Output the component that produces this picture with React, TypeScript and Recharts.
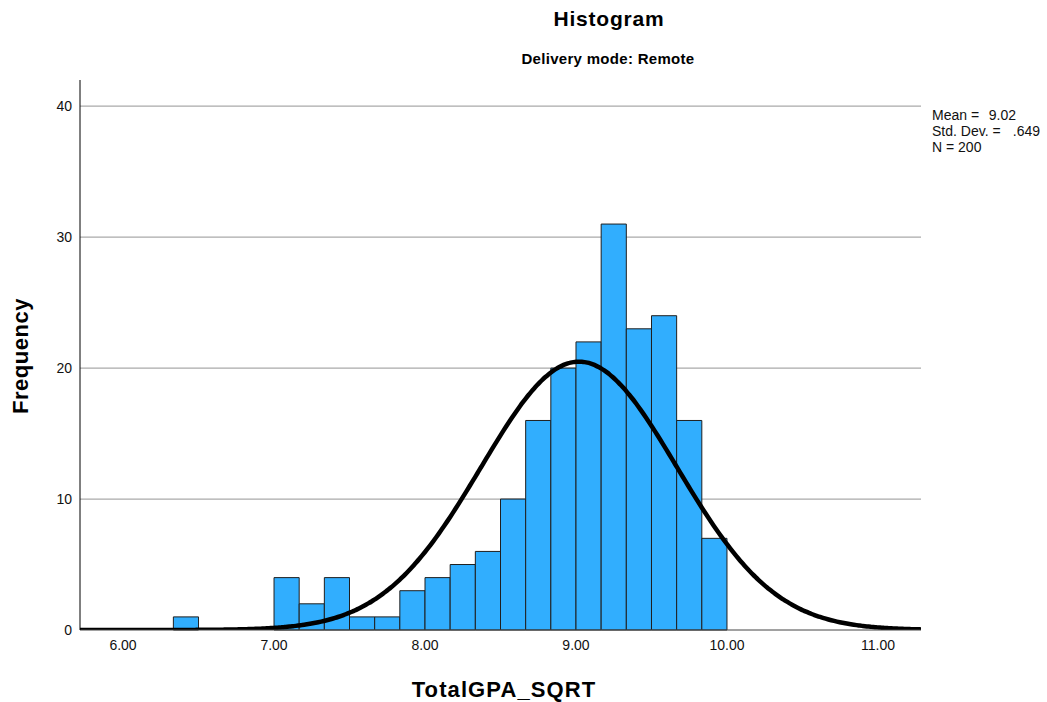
import React from "react";
import {
  ComposedChart,
  Line,
  XAxis,
  YAxis,
  CartesianGrid,
  ReferenceArea,
} from "recharts";

// Histogram bins: lower edge of the first bin, bin width, and counts per bin
const firstEdge = 6 + 1 / 3;
const binWidth = 1 / 6;
const binCounts = [1, 0, 0, 0, 4, 2, 4, 1, 1, 3, 4, 5, 6, 10, 16, 20, 22, 31, 23, 24, 16, 7];

// Summary stats shown at the right
const statMean = 9.02;
const statSd = 0.649;
const statN = 200;

const xTicks = [6, 7, 8, 9, 10, 11];
const yTicks = [0, 10, 20, 30, 40];
const gridValues = [10, 20, 30, 40];
const xDomain: [number, number] = [5.715, 11.285];

const FONT = "'Liberation Sans', Arial, sans-serif";

const bins = binCounts.map((count, i) => ({
  lo: firstEdge + i * binWidth,
  hi: firstEdge + (i + 1) * binWidth,
  count,
}));

// fitted normal curve scaled to counts
const curve = (() => {
  const pts: { x: number; y: number }[] = [];
  const steps = 300;
  for (let i = 0; i <= steps; i++) {
    const x = xDomain[0] + ((xDomain[1] - xDomain[0]) * i) / steps;
    const z = (x - statMean) / statSd;
    const y = (statN * binWidth * Math.exp(-0.5 * z * z)) / (statSd * Math.sqrt(2 * Math.PI));
    pts.push({ x, y });
  }
  return pts;
})();

export default function App() {
  return (
    <div style={{ position: "absolute", left: 0, top: 0, width: 1047, height: 702, background: "#fff" }}>
      <ComposedChart
        width={1047}
        height={702}
        data={curve}
        margin={{ top: 80, right: 126, bottom: 0, left: 0 }}
      >
        <CartesianGrid
          vertical={false}
          horizontalValues={gridValues}
          stroke="#aaaaaa"
          strokeWidth={1.3}
        />
        <XAxis
          dataKey="x"
          type="number"
          domain={xDomain}
          ticks={xTicks}
          tickFormatter={(v: number) => v.toFixed(2)}
          allowDataOverflow
          height={72}
          tickLine={false}
          stroke="#444"
          tick={{ fill: "#111", fontSize: 14, fontFamily: FONT }}
          tickMargin={4}
        />
        <YAxis
          type="number"
          domain={[0, 42]}
          ticks={yTicks}
          allowDataOverflow
          width={80}
          tickLine={false}
          stroke="#000"
          tick={{ fill: "#111", fontSize: 14, fontFamily: FONT }}
        />
        {bins
          .filter((b) => b.count > 0)
          .map((b, i) => (
            <ReferenceArea
              key={`bin-${i}`}
              x1={b.lo}
              x2={b.hi}
              y1={0}
              y2={b.count}
              fill="#31aefe"
              fillOpacity={1}
              stroke="#1f1f1f"
              strokeWidth={1}
              ifOverflow="visible"
            />
          ))}
        <Line
          dataKey="y"
          type="monotone"
          dot={false}
          stroke="#000"
          strokeWidth={4.5}
          isAnimationActive={false}
        />
        <text
          x={609}
          y={26}
          textAnchor="middle"
          fontFamily={FONT}
          fontSize={21}
          letterSpacing={0.8}
          fontWeight="bold"
          fill="#000"
        >
          Histogram
        </text>
        <text
          x={608}
          y={64}
          textAnchor="middle"
          fontFamily={FONT}
          fontSize={15}
          letterSpacing={0.3}
          fontWeight="bold"
          fill="#000"
        >
          Delivery mode: Remote
        </text>
        <text
          x={504}
          y={697}
          textAnchor="middle"
          fontFamily={FONT}
          fontSize={22}
          letterSpacing={1.1}
          fontWeight="bold"
          fill="#000"
        >
          TotalGPA_SQRT
        </text>
        <text
          x={0}
          y={0}
          transform="translate(28 356) rotate(-90)"
          textAnchor="middle"
          fontFamily={FONT}
          fontSize={22}
          letterSpacing={0.5}
          fontWeight="bold"
          fill="#000"
        >
          Frequency
        </text>
        <g fontFamily={FONT} fontSize={14} fill="#111">
          <text x={932} y={120}>Mean =</text>
          <text x={1016} y={120} textAnchor="end">{statMean.toFixed(2)}</text>
          <text x={932} y={136}>Std. Dev. =</text>
          <text x={1040} y={136} textAnchor="end">{statSd.toFixed(3).replace(/^0/, "")}</text>
          <text x={932} y={152}>N = {statN}</text>
        </g>
      </ComposedChart>
    </div>
  );
}
